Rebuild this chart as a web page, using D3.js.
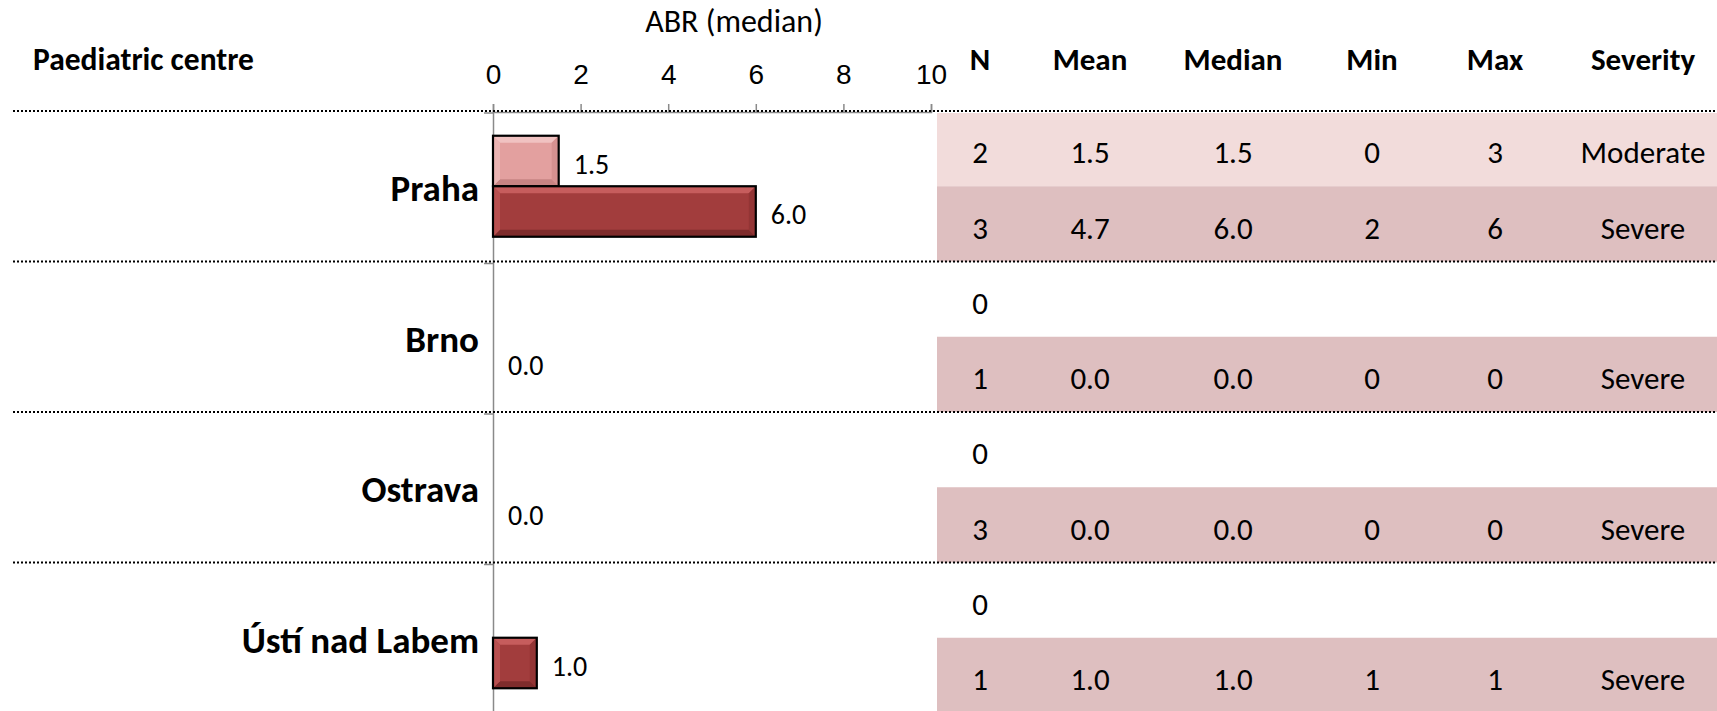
<!DOCTYPE html>
<html>
<head>
<meta charset="utf-8">
<script src="https://cdn.jsdelivr.net/npm/d3@7/dist/d3.min.js"></script>
<style>
  html, body { margin: 0; padding: 0; background: #fff; }
  svg { display: block; font-family: Carlito, Calibri, Lato, sans-serif; }
</style>
</head>
<body>
<svg id="chart" width="1717" height="711"></svg>
<script>
// ---------------- DATA ----------------
const centres = ["Praha", "Brno", "Ostrava", "Ústí nad Labem"];
const severities = ["Moderate", "Severe"];
// ABR median per centre (null = no patients)
const medianModerate = [1.5, null, null, null];
const medianSevere = [6.0, 0.0, 0.0, 1.0];
// table values
const nModerate = [2, 0, 0, 0];
const nSevere = [3, 1, 3, 1];
const meanModerate = ["1.5", "", "", ""];
const meanSevere = ["4.7", "0.0", "0.0", "1.0"];
const medModTxt = ["1.5", "", "", ""];
const medSevTxt = ["6.0", "0.0", "0.0", "1.0"];
const minModerate = ["0", "", "", ""];
const minSevere = ["2", "0", "0", "1"];
const maxModerate = ["3", "", "", ""];
const maxSevere = ["6", "0", "0", "1"];
const xTicks = [0, 2, 4, 6, 8, 10];
const tableHeaders = ["N", "Mean", "Median", "Min", "Max", "Severity"];
const axisTitle = "ABR (median)";
const rowTitle = "Paediatric centre";

// ---------------- LAYOUT ----------------
const W = 1717, H = 711;
const svg = d3.select("#chart");

const x = d3.scaleLinear().domain([0, 10]).range([493, 931]);
const y0 = d3.scaleBand().domain(centres).range([111, 713]);
const y1 = d3.scaleBand().domain(severities).range([0, y0.bandwidth()]).paddingOuter(0.49);
const yRow = d3.scaleBand().domain(severities).range([0, y0.bandwidth()]);
const colX = d3.scaleOrdinal().domain(tableHeaders).range([980, 1090, 1233, 1372, 1495, 1643]);

const colors = {
  Moderate: { base: "#E3A09F", light: "#F0C2C1", dark: "#C78483", side: "#D69190" },
  Severe:   { base: "#A23D3D", light: "#C65D5D", dark: "#7E2C2C", side: "#933535" }
};
const rowFill = { Moderate: "#F2DCDB", Severe: "#DEBFC0" };

// table row backgrounds
const rows = [];
centres.forEach((c, i) => {
  rows.push({ c, s: "Moderate", vals: [nModerate[i], meanModerate[i], medModTxt[i], minModerate[i], maxModerate[i], nModerate[i] > 0 ? "Moderate" : ""] });
  rows.push({ c, s: "Severe", vals: [nSevere[i], meanSevere[i], medSevTxt[i], minSevere[i], maxSevere[i], nSevere[i] > 0 ? "Severe" : ""] });
});

svg.append("g").selectAll("rect").data(rows.filter(r => r.vals[0] > 0)).join("rect")
  .attr("x", 937)
  .attr("y", d => y0(d.c) + yRow(d.s) + (d.s === "Moderate" ? 2 : 0))
  .attr("width", W - 937)
  .attr("height", d => yRow.bandwidth() - (d.s === "Moderate" ? 2 : 0))
  .attr("fill", d => rowFill[d.s]);

// table values
const tg = svg.append("g").attr("font-size", 31).attr("fill", "#000").attr("text-anchor", "middle");
rows.forEach(r => {
  r.vals.forEach((v, j) => {
    if (v === "" ) return;
    tg.append("text")
      .attr("x", colX(tableHeaders[j]))
      .attr("y", y0(r.c) + yRow(r.s) + yRow.bandwidth() / 2 + 4)
      .attr("dy", "0.35em")
      .text(v);
  });
});

// headers
svg.append("g").attr("font-size", 31).attr("font-weight", "bold").attr("text-anchor", "middle")
  .selectAll("text").data(tableHeaders).join("text")
  .attr("x", d => colX(d)).attr("y", 70).text(d => d);

svg.append("text").attr("x", 33).attr("y", 70).attr("font-size", 31.5).attr("font-weight", "bold").text(rowTitle);
svg.append("text").attr("x", 734).attr("y", 32).attr("font-size", 32).attr("text-anchor", "middle").text(axisTitle);

// top axis
const xAxis = d3.axisTop(x).tickValues(xTicks).tickSize(8).tickPadding(20).tickFormat(d3.format("d"));
const ax = svg.append("g").attr("transform", "translate(0,112)").call(xAxis);
ax.select(".domain").attr("stroke", "#8a8a8a").attr("stroke-width", 1.5);
ax.selectAll(".tick line").attr("stroke", "#8a8a8a").attr("stroke-width", 1.5);
ax.selectAll(".tick text").attr("font-size", 28).attr("font-family", null).attr("fill", "#000");

// left axis (category)
const yAxis = d3.axisLeft(y0).tickValues([]).tickSizeOuter(0);
const ay = svg.append("g").attr("transform", `translate(${x(0)},0)`).call(yAxis);
ay.select(".domain").attr("stroke", "#8a8a8a").attr("stroke-width", 1.5);
svg.append("g").selectAll("line").data(centres).join("line")
  .attr("x1", x(0) - 9).attr("x2", x(0))
  .attr("y1", d => y0(d) + 2).attr("y2", d => y0(d) + 2)
  .attr("stroke", "#8a8a8a").attr("stroke-width", 1.5);

// category labels
svg.append("g").attr("font-size", 37).attr("font-weight", "bold").attr("text-anchor", "end")
  .selectAll("text").data(centres).join("text")
  .attr("x", 479)
  .attr("y", d => y0(d) + y0.bandwidth() / 2 + 2)
  .attr("dy", "0.35em")
  .text(d => d);

// bars
const bars = [];
centres.forEach((c, i) => {
  if (medianModerate[i] !== null) bars.push({ c, s: "Moderate", v: medianModerate[i] });
  if (medianSevere[i] !== null) bars.push({ c, s: "Severe", v: medianSevere[i] });
});

const bg = svg.append("g");
bars.forEach(d => {
  const bx = x(0), by = y0(d.c) + y1(d.s), bw = x(d.v) - x(0), bh = y1.bandwidth();
  if (bw > 0) {
    const col = colors[d.s];
    const b = Math.min(7, bw / 2, bh / 2);
    const g = bg.append("g");
    g.append("rect").attr("x", bx).attr("y", by).attr("width", bw).attr("height", bh).attr("fill", col.base);
    const poly = pts => g.append("polygon").attr("points", pts.map(p => p.join(",")).join(" "));
    poly([[bx, by], [bx + bw, by], [bx + bw - b, by + b], [bx + b, by + b]]).attr("fill", col.light);
    poly([[bx, by + bh], [bx + bw, by + bh], [bx + bw - b, by + bh - b], [bx + b, by + bh - b]]).attr("fill", col.dark);
    poly([[bx, by], [bx + b, by + b], [bx + b, by + bh - b], [bx, by + bh]]).attr("fill", col.light).attr("opacity", 0.6);
    poly([[bx + bw, by], [bx + bw - b, by + b], [bx + bw - b, by + bh - b], [bx + bw, by + bh]]).attr("fill", col.side);
    g.append("rect").attr("x", bx).attr("y", by).attr("width", bw).attr("height", bh)
      .attr("fill", "none").attr("stroke", "#000").attr("stroke-width", 2.2);
  }
  bg.append("text")
    .attr("x", x(d.v) + 15)
    .attr("y", by + bh / 2 + 3)
    .attr("dy", "0.35em")
    .attr("font-size", 28)
    .text(d3.format(".1f")(d.v));
});

// dotted separators
svg.append("g").selectAll("line").data(centres).join("line")
  .attr("x1", 13).attr("x2", W)
  .attr("y1", d => y0(d)).attr("y2", d => y0(d))
  .attr("stroke", "#000").attr("stroke-width", 2).attr("stroke-dasharray", "2,2");
</script>
</body>
</html>
